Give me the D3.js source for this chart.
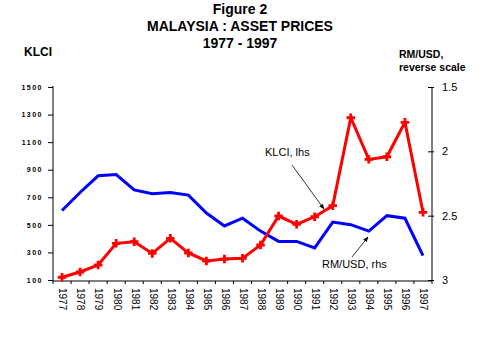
<!DOCTYPE html>
<html><head><meta charset="utf-8">
<script src="https://cdn.jsdelivr.net/npm/d3@7"></script>
<style>body{margin:0;background:#fff;font-family:"Liberation Sans",Arial,sans-serif;}</style>
</head><body><svg id="c" width="479" height="359"></svg>
<script>
const years = ["1977","1978","1979","1980","1981","1982","1983","1984","1985","1986","1987","1988","1989","1990","1991","1992","1993","1994","1995","1996","1997"];
const klci = [120,158,209,366,378,293,402,296,238,252,257,354,564,504,559,639,1277,975,994,1244,591];
const rmusd = [2.46,2.32,2.19,2.18,2.30,2.33,2.32,2.34,2.48,2.58,2.52,2.62,2.70,2.70,2.75,2.55,2.57,2.62,2.50,2.52,2.81];
const leftTicks = [100,300,500,700,900,1100,1300,1500];
const rightTicks = [1.5,2,2.5,3];

const svg = d3.select("#c");
const L = 53, R = 432, T = 87, B = 280;
const x = d3.scaleBand().domain(years).range([L, R]);
const yL = d3.scaleLinear().domain([100,1500]).range([B, T]);
const yR = d3.scaleLinear().domain([1.5,3]).range([T, B]);

// titles
const tl = ["Figure 2","MALAYSIA : ASSET PRICES","1977  -  1997"];
tl.forEach((t,i)=>svg.append("text").attr("x",240).attr("y",14+i*17).attr("text-anchor","middle")
  .attr("font-size",14).attr("font-weight","bold").text(t));
svg.append("text").attr("x",24).attr("y",56).attr("font-size",12).attr("font-weight","bold").text("KLCI");
svg.append("text").attr("x",399).attr("y",58).attr("font-size",10.5).attr("font-weight","bold").text("RM/USD,");
svg.append("text").attr("x",399).attr("y",71).attr("font-size",10.5).attr("font-weight","bold").text("reverse scale");

// left axis
const gl = svg.append("g").attr("transform",`translate(${L},0)`)
  .call(d3.axisLeft(yL).tickValues(leftTicks).tickSize(5).tickPadding(5).tickFormat(d3.format("d")));
gl.select(".domain").attr("d",`M-0,${T-1}V${B+1}`);
gl.selectAll("text").attr("font-size",7).attr("letter-spacing","1.5px").attr("font-family","Liberation Sans, Arial").attr("font-weight","bold");

// right axis
const gr = svg.append("g").attr("transform",`translate(${R},0)`)
  .call(d3.axisRight(yR).tickValues(rightTicks).tickSize(0).tickPadding(10).tickFormat(d=>String(d)));
gr.selectAll(".tick line").attr("x1",-4).attr("x2",2);
gr.select(".domain").attr("d",`M0,${T}V${B+1}`);
gr.selectAll("text").attr("font-size",11).attr("font-family","Liberation Sans, Arial");

// bottom axis
const gb = svg.append("g").attr("transform",`translate(0,${B+1})`)
  .call(d3.axisBottom(x).tickSize(0).tickPadding(0));
gb.select(".domain").attr("d",`M${L},0H${R}`);
gb.selectAll(".tick line").remove();
const bnd = years.map((d,i)=>L + i*x.bandwidth()).concat([R]);
gb.selectAll("line.bt").data(bnd).enter().append("line").attr("class","bt")
  .attr("x1",d=>d).attr("x2",d=>d).attr("y1",0).attr("y2",3).attr("stroke","#000");
gb.selectAll(".tick text").attr("font-size",10).attr("font-family","Liberation Sans, Arial")
  .attr("text-anchor","start").attr("dy",null).attr("transform","rotate(90)").attr("x",7).attr("y",0).attr("dominant-baseline","middle");

const cx = d => x(d) + x.bandwidth()/2;
// blue line
svg.append("path").datum(rmusd).attr("fill","none").attr("stroke","#0000ff").attr("stroke-width",3)
  .attr("d", d3.line().x((d,i)=>cx(years[i])).y(d=>yR(d)));
// red line
svg.append("path").datum(klci).attr("fill","none").attr("stroke","#ff0000").attr("stroke-width",3)
  .attr("d", d3.line().x((d,i)=>cx(years[i])).y(d=>yL(d)));
svg.selectAll("path.m").data(klci).enter().append("path").attr("class","m")
  .attr("d", d3.symbol().type(d3.symbolCross).size(40))
  .attr("transform",(d,i)=>`translate(${cx(years[i])},${yL(d)})`).attr("fill","#ff0000");

// annotations
svg.append("defs").append("marker").attr("id","ar").attr("viewBox","0 0 10 10").attr("refX",9).attr("refY",5)
  .attr("markerWidth",7).attr("markerHeight",7).attr("orient","auto")
  .append("path").attr("d","M0,1L10,5L0,9z").attr("fill","#000");
svg.append("text").attr("x",265).attr("y",156).attr("font-size",11).text("KLCI, lhs");
svg.append("line").attr("x1",292).attr("y1",165).attr("x2",324).attr("y2",209).attr("stroke","#000").attr("stroke-width",0.8).attr("marker-end","url(#ar)");
svg.append("text").attr("x",322).attr("y",268).attr("font-size",11).text("RM/USD, rhs");
svg.append("line").attr("x1",352).attr("y1",257).attr("x2",368).attr("y2",237).attr("stroke","#000").attr("stroke-width",0.8).attr("marker-end","url(#ar)");
</script></body></html>
